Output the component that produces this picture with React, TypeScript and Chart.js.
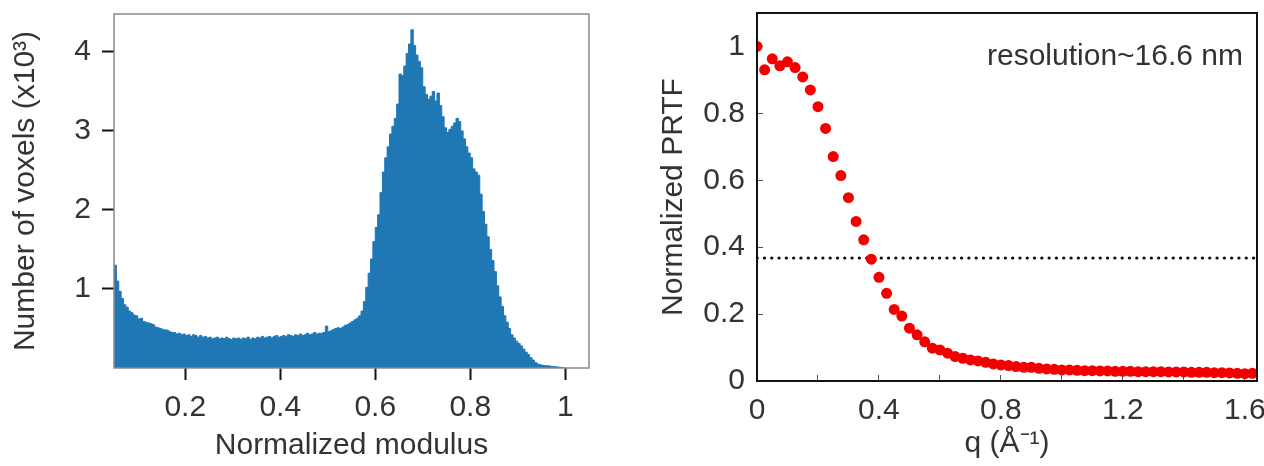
import React, { useEffect, useRef } from 'react';
import { Chart, registerables } from 'chart.js';

Chart.register(...registerables);

const FONT = '"Liberation Sans", Arial, Helvetica, sans-serif';
const TEXT_COLOR = '#333333';
const FONT_SIZE = 30;

// ---------- Left panel: histogram of normalized modulus ----------
const HIST_BIN_START = 0.05;
const HIST_BIN_WIDTH = 0.005;
const HIST_COUNTS = [
  1.30, 1.10, 0.97, 0.88, 0.80, 0.77, 0.72, 0.70, 0.67, 0.66,
  0.62, 0.63, 0.59, 0.58, 0.57, 0.56, 0.55, 0.52, 0.51, 0.50,
  0.49, 0.48, 0.48, 0.46, 0.45, 0.45, 0.43, 0.44, 0.42, 0.43,
  0.41, 0.42, 0.40, 0.42, 0.41, 0.39, 0.41, 0.39, 0.40, 0.38,
  0.39, 0.37, 0.38, 0.39, 0.37, 0.38, 0.37, 0.39, 0.37, 0.36,
  0.38, 0.37, 0.38, 0.36, 0.38, 0.37, 0.39, 0.36, 0.38, 0.37,
  0.39, 0.38, 0.40, 0.38, 0.39, 0.40, 0.38, 0.40, 0.41, 0.39,
  0.40, 0.41, 0.40, 0.42, 0.41, 0.40, 0.42, 0.41, 0.43, 0.41,
  0.42, 0.44, 0.42, 0.43, 0.45, 0.43, 0.44, 0.44, 0.45, 0.53,
  0.46, 0.47, 0.49, 0.50, 0.51, 0.50, 0.52, 0.54, 0.55, 0.57,
  0.59, 0.61, 0.63, 0.66, 0.72, 0.84, 1.02, 1.20, 1.38, 1.60,
  1.78, 1.94, 2.22, 2.48, 2.66, 2.80, 2.96, 3.06, 3.16, 3.34,
  3.72, 3.70, 3.82, 3.98, 4.10, 4.28, 4.08, 3.96, 3.88, 3.80,
  3.56, 3.46, 3.40, 3.44, 3.50, 3.38, 3.48, 3.32, 3.18, 3.04,
  2.98, 3.02, 3.06, 3.10, 3.16, 3.12, 3.00, 2.90, 2.80, 2.72,
  2.66, 2.52, 2.48, 2.44, 2.20, 1.98, 1.82, 1.66, 1.50, 1.36,
  1.22, 1.04, 0.90, 0.78, 0.66, 0.58, 0.50, 0.42, 0.38, 0.34,
  0.31, 0.28, 0.24, 0.20, 0.17, 0.13, 0.10, 0.07, 0.05, 0.04,
  0.035, 0.030, 0.028, 0.025, 0.020, 0.018, 0.014, 0.010, 0.006, 0.003,
];
const HIST_X_MIN = 0.05;
const HIST_X_MAX = 1.05;
const HIST_Y_MAX = 4.48;
const HIST_X_TICKS = [0.2, 0.4, 0.6, 0.8, 1];
const HIST_Y_TICKS = [1, 2, 3, 4];
const HIST_X_TITLE = 'Normalized modulus';
const HIST_Y_TITLE = 'Number of voxels (x10³)';

// ---------- Right panel: PRTF ----------
const PRTF_Q = [
  0.000, 0.025, 0.050, 0.075, 0.100, 0.125, 0.150, 0.175, 0.200, 0.225,
  0.250, 0.275, 0.300, 0.325, 0.350, 0.375, 0.400, 0.425, 0.450, 0.475,
  0.500, 0.525, 0.550, 0.575, 0.600, 0.625, 0.650, 0.675, 0.700, 0.725,
  0.750, 0.775, 0.800, 0.825, 0.850, 0.875, 0.900, 0.925, 0.950, 0.975,
  1.000, 1.025, 1.050, 1.075, 1.100, 1.125, 1.150, 1.175, 1.200, 1.225,
  1.250, 1.275, 1.300, 1.325, 1.350, 1.375, 1.400, 1.425, 1.450, 1.475,
  1.500, 1.525, 1.550, 1.575, 1.600, 1.625,
];
const PRTF_VALUES = [
  1.000, 0.930, 0.963, 0.942, 0.954, 0.937, 0.909, 0.870, 0.820, 0.755,
  0.671, 0.614, 0.548, 0.477, 0.422, 0.364, 0.310, 0.262, 0.214, 0.194,
  0.158, 0.138, 0.117, 0.098, 0.093, 0.083, 0.073, 0.068, 0.063, 0.060,
  0.056, 0.051, 0.048, 0.046, 0.043, 0.041, 0.041, 0.038, 0.036, 0.035,
  0.033, 0.033, 0.032, 0.031, 0.031, 0.030, 0.030, 0.029, 0.029, 0.029,
  0.028, 0.028, 0.028, 0.028, 0.027, 0.027, 0.027, 0.026, 0.026, 0.026,
  0.025, 0.025, 0.024, 0.023, 0.022, 0.023,
];
const PRTF_THRESHOLD = 0.368;
const PRTF_X_MIN = 0;
const PRTF_X_MAX = 1.64;
const PRTF_Y_MAX = 1.1;
const PRTF_X_TICKS = [0, 0.2, 0.4, 0.6, 0.8, 1.0, 1.2, 1.4, 1.6];
const PRTF_X_LABELED = [0, 0.4, 0.8, 1.2, 1.6];
const PRTF_Y_TICKS = [0, 0.2, 0.4, 0.6, 0.8, 1];
const PRTF_X_TITLE = 'q (Å⁻¹)';
const PRTF_Y_TITLE = 'Normalized PRTF';
const RESOLUTION_TEXT = 'resolution~16.6 nm';

const fmt = (v: number) => String(parseFloat(Number(v).toFixed(2)));

const framePlugin = {
  id: 'frame',
  afterDatasetsDraw(chart: any, _args: any, opts: any) {
    const { ctx, chartArea: a } = chart;
    ctx.save();
    ctx.strokeStyle = opts.color || '#000';
    ctx.lineWidth = opts.width || 1;
    ctx.strokeRect(a.left, a.top, a.right - a.left, a.bottom - a.top);
    ctx.restore();
  },
};

const annotationPlugin = {
  id: 'cornerText',
  afterDatasetsDraw(chart: any, _args: any, opts: any) {
    if (!opts || !opts.text) return;
    const { ctx, chartArea: a } = chart;
    ctx.save();
    ctx.font = `${opts.size}px ${FONT}`;
    ctx.fillStyle = TEXT_COLOR;
    ctx.textAlign = 'right';
    ctx.textBaseline = 'middle';
    ctx.fillText(opts.text, a.right - opts.dx, a.top + opts.dy);
    ctx.restore();
  },
};

const setTicks = (values: number[]) => (scale: any) => {
  scale.ticks = values.map((v) => ({ value: v }));
};

const fixSize = (dim: 'width' | 'height', size: number) => (s: any) => {
  s[dim] = size;
  s.paddingTop = 0;
  s.paddingBottom = 0;
  s.paddingLeft = 0;
  s.paddingRight = 0;
};

export default function App() {
  const leftRef = useRef<HTMLCanvasElement>(null);
  const rightRef = useRef<HTMLCanvasElement>(null);

  useEffect(() => {
    const histPoints = HIST_COUNTS.map((c, i) => ({ x: HIST_BIN_START + i * HIST_BIN_WIDTH, y: c }));
    histPoints.push({ x: HIST_BIN_START + HIST_COUNTS.length * HIST_BIN_WIDTH, y: 0 });

    const font = { family: FONT, size: FONT_SIZE };

    const left = new Chart(leftRef.current!, {
      type: 'line',
      data: {
        datasets: [
          {
            data: histPoints,
            stepped: true,
            fill: 'origin',
            backgroundColor: '#1f77b4',
            borderColor: '#1f77b4',
            borderWidth: 1,
            pointRadius: 0,
          } as any,
        ],
      },
      plugins: [framePlugin],
      options: {
        animation: false,
        responsive: false,
        devicePixelRatio: 1,
        layout: { padding: { left: 0, top: 14, right: 31, bottom: 0 } },
        plugins: {
          legend: { display: false },
          tooltip: { enabled: false },
          frame: { color: '#8a8a8a', width: 1.5 },
        } as any,
        scales: {
          x: {
            type: 'linear',
            min: HIST_X_MIN,
            max: HIST_X_MAX,
            afterBuildTicks: setTicks(HIST_X_TICKS),
            afterFit: fixSize('height', 98),
            border: { display: false },
            grid: { drawOnChartArea: false, drawTicks: true, tickLength: 12, tickWidth: 2, tickColor: '#111' },
            ticks: { color: TEXT_COLOR, font, padding: 10, maxRotation: 0, autoSkip: false, callback: (v: any) => fmt(v) },
            title: { display: true, text: HIST_X_TITLE, color: TEXT_COLOR, font, padding: { top: 0, bottom: 2 } },
          },
          y: {
            type: 'linear',
            min: 0,
            max: HIST_Y_MAX,
            afterBuildTicks: setTicks(HIST_Y_TICKS),
            afterFit: fixSize('width', 114),
            border: { display: false },
            grid: { drawOnChartArea: false, drawTicks: true, tickLength: 12, tickWidth: 2, tickColor: '#111' },
            ticks: { color: TEXT_COLOR, font, padding: 11, autoSkip: false, callback: (v: any) => fmt(v) },
            title: { display: true, text: HIST_Y_TITLE, color: TEXT_COLOR, font, padding: { top: 8, bottom: 0 } },
          },
        },
      } as any,
    });

    const prtfPoints = PRTF_Q.map((q, i) => ({ x: q, y: PRTF_VALUES[i] }));
    const thresholdLine = [
      { x: PRTF_X_MIN, y: PRTF_THRESHOLD },
      { x: PRTF_X_MAX, y: PRTF_THRESHOLD },
    ];

    const right = new Chart(rightRef.current!, {
      type: 'scatter',
      data: {
        datasets: [
          {
            data: prtfPoints,
            pointRadius: 5.5,
            pointHoverRadius: 5.5,
            backgroundColor: '#f20000',
            borderWidth: 0,
            pointBorderWidth: 0,
            order: 1,
          } as any,
          {
            type: 'line',
            data: thresholdLine,
            showLine: true,
            borderColor: '#111',
            borderWidth: 3,
            borderDash: [0.3, 7],
            borderCapStyle: 'round',
            pointRadius: 0,
            fill: false,
            order: 2,
          } as any,
        ],
      },
      plugins: [framePlugin, annotationPlugin],
      options: {
        animation: false,
        responsive: false,
        devicePixelRatio: 1,
        layout: { padding: { left: 0, top: 13, right: 33, bottom: 0 } },
        plugins: {
          legend: { display: false },
          tooltip: { enabled: false },
          frame: { color: '#111', width: 2 },
          cornerText: { text: RESOLUTION_TEXT, size: FONT_SIZE, dx: 14, dy: 44 },
        } as any,
        scales: {
          x: {
            type: 'linear',
            min: PRTF_X_MIN,
            max: PRTF_X_MAX,
            afterBuildTicks: setTicks(PRTF_X_TICKS),
            afterFit: fixSize('height', 85),
            border: { display: false },
            grid: { drawOnChartArea: false, drawTicks: true, tickLength: -6, tickWidth: 1, tickColor: '#555' },
            ticks: {
              color: TEXT_COLOR, font, padding: 18, maxRotation: 0, autoSkip: false,
              callback: (v: any) => (PRTF_X_LABELED.some((l) => Math.abs(l - v) < 1e-6) ? fmt(v) : ''),
            },
            title: { display: true, text: PRTF_X_TITLE, color: TEXT_COLOR, font, padding: { top: 0, bottom: 4 } },
          },
          y: {
            type: 'linear',
            min: 0,
            max: PRTF_Y_MAX,
            afterBuildTicks: setTicks(PRTF_Y_TICKS),
            afterFit: fixSize('width', 117),
            border: { display: false },
            grid: { drawOnChartArea: false, drawTicks: true, tickLength: -6, tickWidth: 1, tickColor: '#555' },
            ticks: { color: TEXT_COLOR, font, padding: 18, autoSkip: false, callback: (v: any) => fmt(v) },
            title: { display: true, text: PRTF_Y_TITLE, color: TEXT_COLOR, font, padding: { top: 16, bottom: 0 } },
          },
        },
      } as any,
    });

    return () => {
      left.destroy();
      right.destroy();
    };
  }, []);

  return (
    <div style={{ position: 'fixed', left: 0, top: 0, width: 1264, height: 466, overflow: 'hidden', background: '#fff' }}>
      <canvas ref={leftRef} width={620} height={466} style={{ position: 'absolute', left: 0, top: 0, width: 620, height: 466 }} />
      <canvas ref={rightRef} width={650} height={466} style={{ position: 'absolute', left: 640, top: 0, width: 650, height: 466 }} />
    </div>
  );
}
